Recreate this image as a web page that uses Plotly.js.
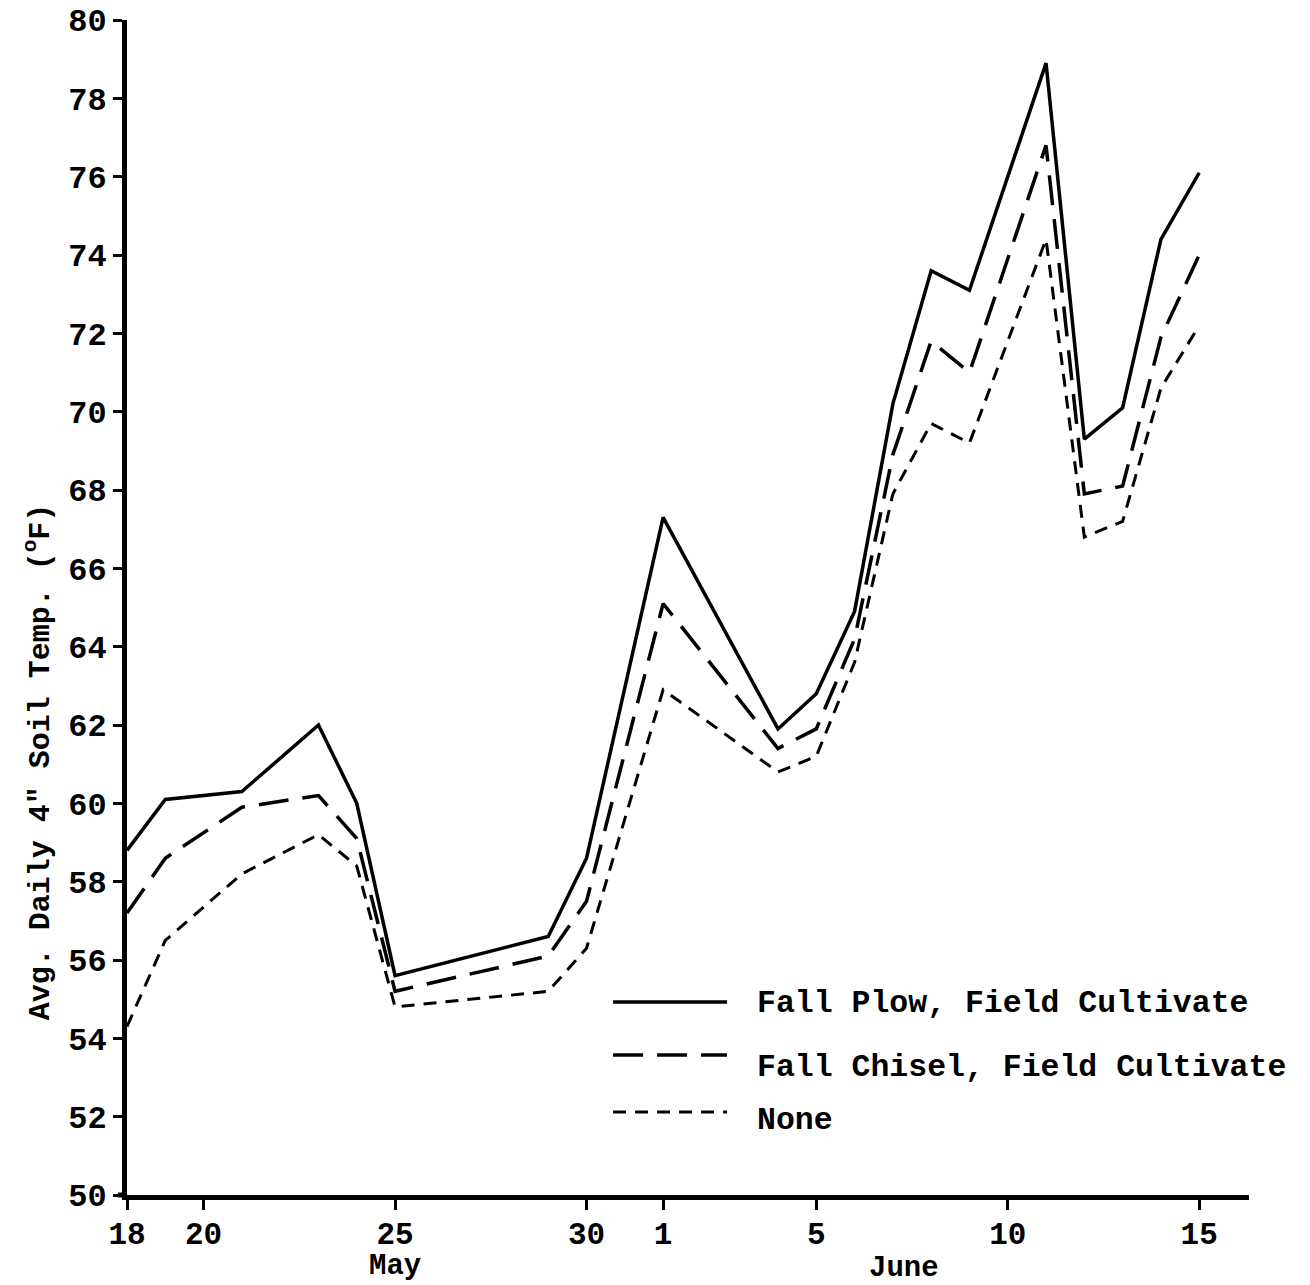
<!DOCTYPE html>
<html>
<head>
<meta charset="utf-8">
<script src="https://cdn.plot.ly/plotly-3.0.1.min.js"></script>
<style>html,body{margin:0;padding:0;background:#fff;}#chart{width:1310px;height:1285px;}</style>
</head>
<body>
<div id="chart"></div>
<script>
// Days counted from May 18 (0 = May 18, 14 = June 1, 28 = June 15)
const day = [0, 1, 3, 5, 6, 7, 11, 12, 14, 17, 18, 19, 20, 21, 22, 24, 25, 26, 27, 28];
const fallPlow   = [58.8, 60.1, 60.3, 62.0, 60.0, 55.6, 56.6, 58.6, 67.3, 61.9, 62.8, 64.9, 70.2, 73.6, 73.1, 78.9, 69.3, 70.1, 74.4, 76.1];
const fallChisel = [57.2, 58.6, 59.9, 60.2, 59.1, 55.2, 56.1, 57.5, 65.1, 61.4, 61.9, 64.2, 68.9, 71.8, 71.0, 76.8, 67.9, 68.1, 71.9, 74.0];
const noTillage  = [54.3, 56.5, 58.2, 59.2, 58.4, 54.8, 55.2, 56.3, 62.9, 60.8, 61.2, 63.6, 67.9, 69.7, 69.2, 74.4, 66.8, 67.2, 70.6, 72.2];
const seriesNames = ['Fall Plow, Field Cultivate', 'Fall Chisel, Field Cultivate', 'None'];
const tickDays = [0, 2, 7, 12, 14, 18, 23, 28];
const tickLabels = ['18', '20', '25', '30', '1', '5', '10', '15'];
const monthLabels = ['May', 'June'];
const monthDays = [7, 20.3];

const FONT = 'Liberation Mono, Courier New, monospace';
const dashes = ['solid', '30px,14px', '13px,9px'];
const widths = [3.5, 3.5, 3];
const ys = [fallPlow, fallChisel, noTillage];

const traces = ys.map((v, i) => ({
  x: day, y: v, type: 'scatter', mode: 'lines', name: seriesNames[i],
  line: {color: '#000', width: widths[i], dash: dashes[i]}, showlegend: false
}));

const shapes = [];
const annotations = [];
const legX0 = 0.4332, legX1 = 0.5348, legTextX = 0.5597;
const legLineY = [0.1643, 0.1191, 0.0706];
const legTextY = [0.1626, 0.1089, 0.0638];
seriesNames.forEach((n, i) => {
  shapes.push({type: 'line', xref: 'paper', yref: 'paper', x0: legX0, x1: legX1, y0: legLineY[i], y1: legLineY[i],
    line: {color: '#000', width: widths[i], dash: dashes[i]}});
  annotations.push({xref: 'paper', yref: 'paper', x: legTextX, y: legTextY[i], xanchor: 'left', yanchor: 'middle',
    text: n, showarrow: false, font: {family: FONT, size: 31.5, color: '#000', weight: 'bold'}});
});
monthLabels.forEach((m, i) => {
  annotations.push({xref: 'x', yref: 'paper', x: monthDays[i], y: i === 0 ? -0.0605 : -0.0625, xanchor: 'center', yanchor: 'middle',
    text: m, showarrow: false, font: {family: FONT, size: 29, color: '#000', weight: 'bold'}});
});
annotations.push({xref: 'paper', yref: 'paper', x: -0.079, y: 0.3685, xanchor: 'center', yanchor: 'middle', textangle: -90,
  text: 'Avg. Daily 4" Soil Temp. (<sup>o</sup>F)', showarrow: false,
  font: {family: FONT, size: 30, color: '#000', weight: 'bold'}});
// short left overhang of the x axis past the y axis, as in the original drawing
shapes.push({type: 'line', xref: 'paper', yref: 'paper', x0: -0.008, x1: 0, y0: 0, y1: 0, line: {color: '#000', width: 5}});

const layout = {
  width: 1310, height: 1285,
  margin: {l: 127, r: 61, t: 20, b: 90},
  paper_bgcolor: '#fff', plot_bgcolor: '#fff',
  showlegend: false,
  font: {family: FONT, color: '#000'},
  xaxis: {
    range: [0, 29.3], showgrid: false, zeroline: false,
    showline: true, linecolor: '#000', linewidth: 5,
    ticks: 'outside', ticklen: 10, tickwidth: 3, tickcolor: '#000',
    tickvals: tickDays, ticktext: tickLabels, ticklabelstandoff: -3,
    tickfont: {family: FONT, size: 31, color: '#000', weight: 'bold'}
  },
  yaxis: {
    range: [50, 80], dtick: 2, tick0: 50, showgrid: false, zeroline: false,
    showline: true, linecolor: '#000', linewidth: 5,
    ticks: 'outside', ticklen: 9, tickwidth: 3, tickcolor: '#000',
    tickfont: {family: FONT, size: 32, color: '#000', weight: 'bold'}
  },
  shapes: shapes,
  annotations: annotations
};

Plotly.newPlot('chart', traces, layout, {staticPlot: true, displayModeBar: false});
</script>
</body>
</html>
